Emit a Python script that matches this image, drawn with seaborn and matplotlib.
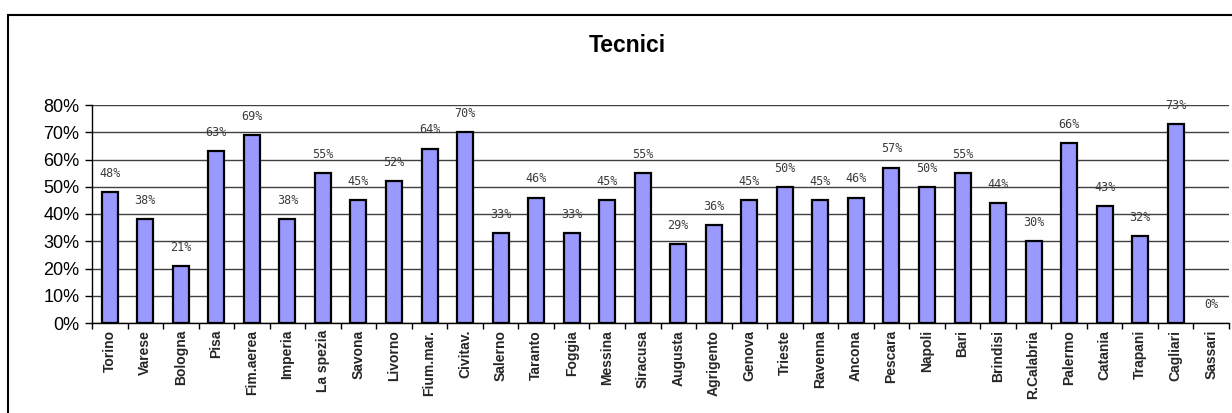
import matplotlib
matplotlib.use("Agg")
import matplotlib.pyplot as plt
import seaborn as sns
import pandas as pd
from matplotlib.patches import Rectangle
from matplotlib.ticker import FixedLocator, PercentFormatter

# Port offices and share of technical staff (%)
cities = ["Torino", "Varese", "Bologna", "Pisa", "Fim.aerea", "Imperia", "La spezia",
          "Savona", "Livorno", "Fium.mar.", "Civitav.", "Salerno", "Taranto", "Foggia",
          "Messina", "Siracusa", "Augusta", "Agrigento", "Genova", "Trieste", "Ravenna",
          "Ancona", "Pescara", "Napoli", "Bari", "Brindisi", "R.Calabria", "Palermo",
          "Catania", "Trapani", "Cagliari", "Sassari"]
share = [48, 38, 21, 63, 69, 38, 55, 45, 52, 64, 70, 33, 46, 33, 45, 55,
         29, 36, 45, 50, 45, 46, 57, 50, 55, 44, 30, 66, 43, 32, 73, 0]
y_ticks = [0, 10, 20, 30, 40, 50, 60, 70, 80]
title = "Tecnici"

sns.set_theme(style="white")
plt.rcParams["font.family"] = ["Liberation Sans", "DejaVu Sans"]

df = pd.DataFrame({"city": cities, "share": share})

fig = plt.figure(figsize=(12.32, 4.13), dpi=100)
ax = fig.add_axes([92 / 1232, 1 - 323 / 413, (1229 - 92) / 1232, (323 - 105) / 413])

sns.barplot(data=df, x="city", y="share", color="#9999FF", saturation=1,
            edgecolor="black", linewidth=1.6, width=0.45, ax=ax)

# empty bars get no outline
for bar in ax.patches:
    if bar.get_height() == 0:
        bar.set_linewidth(0)

ax.set_xlim(-0.5, len(cities) - 0.5)
ax.set_ylim(0, 80)
ax.set_xlabel("")
ax.set_ylabel("")

# grid lines at every 10%
ax.yaxis.set_major_locator(FixedLocator(y_ticks))
ax.yaxis.set_major_formatter(PercentFormatter(decimals=0))
ax.grid(axis="y", color="#404040", linewidth=1.0)
ax.grid(axis="x", visible=False)
ax.set_axisbelow(True)

for side in ["top", "right"]:
    ax.spines[side].set_visible(False)
for side in ["left", "bottom"]:
    ax.spines[side].set_color("black")
    ax.spines[side].set_linewidth(1.0)

ax.tick_params(axis="y", which="major", direction="out", length=5, width=1,
               color="black", labelsize=13, pad=4, left=True)
ax.tick_params(axis="x", which="major", length=0, labelsize=10, pad=5)
ax.xaxis.set_minor_locator(FixedLocator([i - 0.5 for i in range(len(cities) + 1)]))
ax.tick_params(axis="x", which="minor", direction="out", length=4, width=1,
               color="black", bottom=True)
for lab in ax.get_xticklabels():
    lab.set_rotation(90)
    lab.set_fontweight("bold")
    lab.set_va("top")
for lab in ax.get_yticklabels():
    lab.set_color("black")

# value labels above each bar
for i, v in enumerate(share):
    ax.annotate(f"{v}%", xy=(i, v), xytext=(0, 13.5), textcoords="offset points",
                ha="center", va="center", fontsize=8.5, color="#3c3c3c",
                family=["DejaVu Sans Mono"])

fig.text(627 / 1232, 1 - 45 / 413, title, ha="center", va="center",
         fontsize=16.5, fontweight="bold", color="black")

# chart frame
fig.patches.append(Rectangle((8 / 1232, -0.5), 1.5, 0.5 + 1 - 15 / 413,
                             transform=fig.transFigure, fill=False,
                             edgecolor="black", linewidth=1.5))

fig.savefig("out.png", dpi=100, facecolor="white")
